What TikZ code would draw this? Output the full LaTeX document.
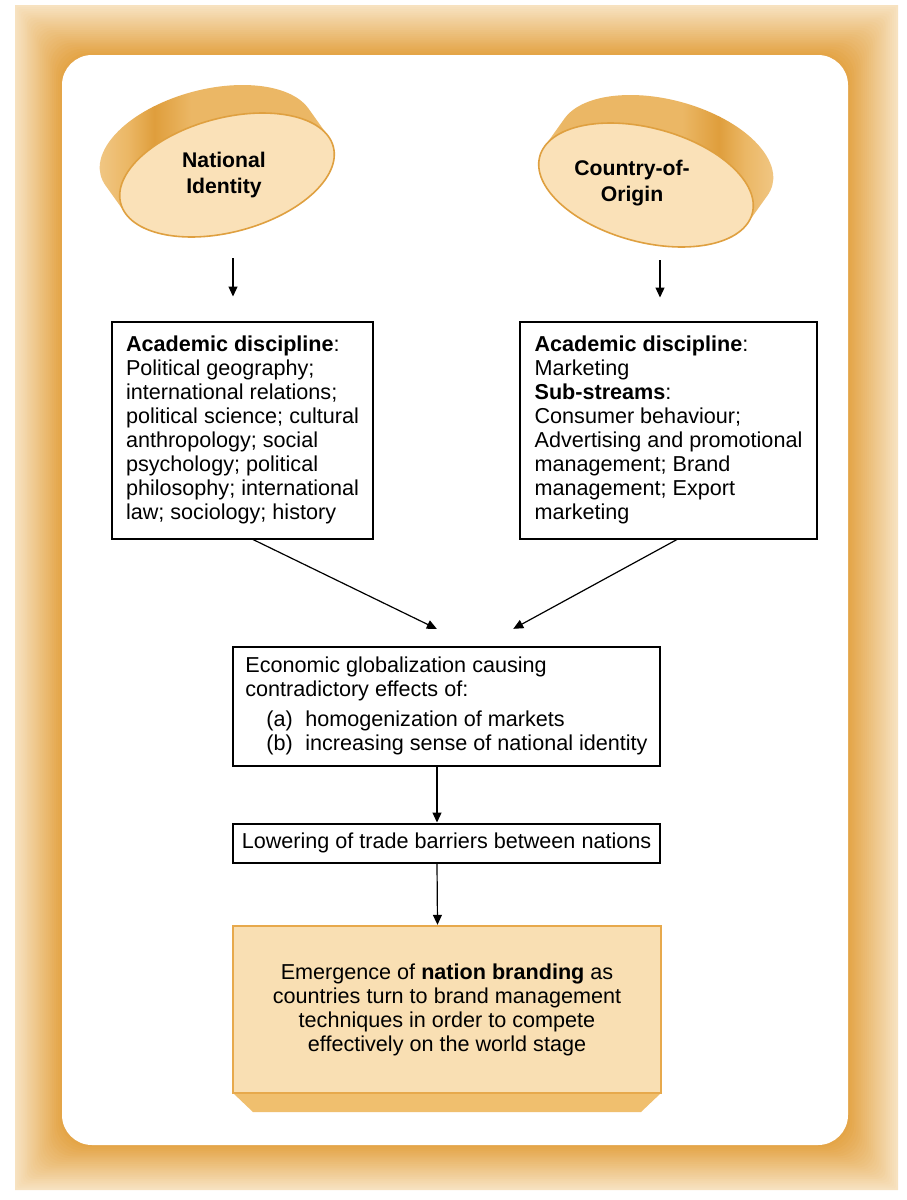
\documentclass[tikz,border=0pt]{standalone}
\usepackage{fontspec}
\setmainfont{Liberation Sans}
\usepackage{xcolor}
\usetikzlibrary{arrows.meta, calc, positioning}

\definecolor{framelight}{HTML}{F7E2C0}
\definecolor{framedark}{HTML}{E3A242}
\definecolor{coinface}{HTML}{FAE1B8}
\definecolor{coinedge}{HTML}{DFA040}
\definecolor{sidelight}{HTML}{F3CD90}
\definecolor{sidemid}{HTML}{EBB765}
\definecolor{sidedark}{HTML}{DF9E3C}
\definecolor{brandfill}{HTML}{F9DFB3}
\definecolor{brandedge}{HTML}{E7A94C}
\definecolor{bevel}{HTML}{F0BF6E}

\pgfdeclarehorizontalshading{coinsideL}{100bp}{color(0bp)=(sidelight); color(25bp)=(sidelight); color(33bp)=(sidemid); color(38bp)=(sidedark); color(45bp)=(sidemid); color(68bp)=(sidemid); color(75bp)=(sidelight); color(100bp)=(sidelight)}
\pgfdeclarehorizontalshading{coinsideR}{100bp}{color(0bp)=(sidelight); color(25bp)=(sidelight); color(32bp)=(sidemid); color(55bp)=(sidemid); color(62bp)=(sidedark); color(67bp)=(sidemid); color(75bp)=(sidelight); color(100bp)=(sidelight)}

\tikzset{
  box/.style={draw, line width=1pt, align=left, inner sep=0pt, font=\fontsize{10.8}{12}\selectfont},
  arr/.style={-{Triangle[length=5pt,width=4.5pt]}, line width=0.6pt},
  coinlabel/.style={align=center, font=\bfseries\fontsize{10.6}{13}\selectfont},
  coinfront/.style={draw=coinedge, line width=0.8pt, fill=coinface}
}

\begin{document}
\begin{tikzpicture}[x=0.5pt, y=-0.5pt]
\useasboundingbox (0,0) rectangle (906,1200);
% frame
\foreach \i in {0,...,24}{
  \pgfmathsetmacro\f{\i/24}
  \pgfmathsetmacro\r{15*\f+0.1}
  \pgfmathtruncatemacro\p{100*\i/24}
  \fill[framedark!\p!framelight, rounded corners=\r pt] (15+47*\f, 5+50*\f) rectangle (898-50*\f, 1190-45*\f);
}
\fill[white, rounded corners=15pt] (62,55) rectangle (848,1145);

% coins
\begin{scope}[shift={(227,175)}, rotate=15]
  \shade[shading=coinsideL] (-120.06,-21.38) arc[start angle=169.02, end angle=349.02, x radius=110, y radius=57] -- ++(12.07,32.23) arc[start angle=-10.98, end angle=169.02, x radius=110, y radius=57] -- cycle;
  \draw[coinfront] (0,0) ellipse[x radius=110, y radius=57];
\end{scope}
\begin{scope}[shift={(646,185)}, rotate=-15]
  \shade[shading=coinsideR] (-95.92,-43.09) arc[start angle=190.98, end angle=370.98, x radius=110, y radius=57] -- ++(-12.07,32.23) arc[start angle=10.98, end angle=190.98, x radius=110, y radius=57] -- cycle;
  \draw[coinfront] (0,0) ellipse[x radius=110, y radius=57];
\end{scope}
\node[coinlabel] (nid) at (224,175) {National\\Identity};
\node[coinlabel] (coo) at (632,183) {Country-of-\\Origin};

% boxes
\node[box, minimum width=130.5pt, minimum height=108.5pt] (disL) at (242.5,430) {\textbf{Academic discipline}:\\Political geography;\\international relations;\\political science; cultural\\anthropology; social\\psychology; political\\philosophy; international\\law; sociology; history};
\node[box, minimum width=148.5pt, minimum height=108.5pt] (disR) at (668.5,430) {\textbf{Academic discipline}:\\Marketing\\\textbf{Sub-streams}:\\Consumer behaviour;\\Advertising and promotional\\management; Brand\\management; Export\\marketing};
\node[box, minimum width=213.5pt, minimum height=59.5pt] (glob) at (446.5,706) {Economic globalization causing\\contradictory effects of:\\[3pt]\hspace*{10.5pt}\makebox[19.5pt][l]{(a)}homogenization of markets\\\hspace*{10.5pt}\makebox[19.5pt][l]{(b)}increasing sense of national identity};
\node[box, minimum width=213.5pt, minimum height=19.5pt] (trade) at (446.5,843) {Lowering of trade barriers between nations};
\fill[bevel] (233,1093) -- (661,1093) -- (641,1112) -- (253,1112) -- cycle;
\node[box, draw=brandedge, line width=1.2pt, fill=brandfill, align=center, minimum width=214pt, minimum height=83.5pt] (brand) at (447,1009.5) {Emergence of \textbf{nation branding} as\\countries turn to brand management\\techniques in order to compete\\effectively on the world stage};

% connectors
\coordinate (nidfoot) at (233,258);
\coordinate (coofoot) at (660,260);
\draw[arr, shorten >=12pt] (nidfoot) -- (nidfoot |- disL.north);
\draw[arr, shorten >=11.5pt] (coofoot) -- (coofoot |- disR.north);
\draw[arr, shorten >=19pt] ([xshift=5.25pt]disL.south) -- ([xshift=12.25pt]glob.north);
\draw[arr, shorten >=17.4pt] ([xshift=4.25pt]disR.south) -- ([xshift=18.1pt]glob.north);
\draw[arr] ([xshift=-4.75pt]glob.south) -- ([xshift=-4.75pt]trade.north);
\draw[arr] ([xshift=-4.75pt]trade.south) -- ([xshift=-4.75pt]brand.north);
\end{tikzpicture}
\end{document}
